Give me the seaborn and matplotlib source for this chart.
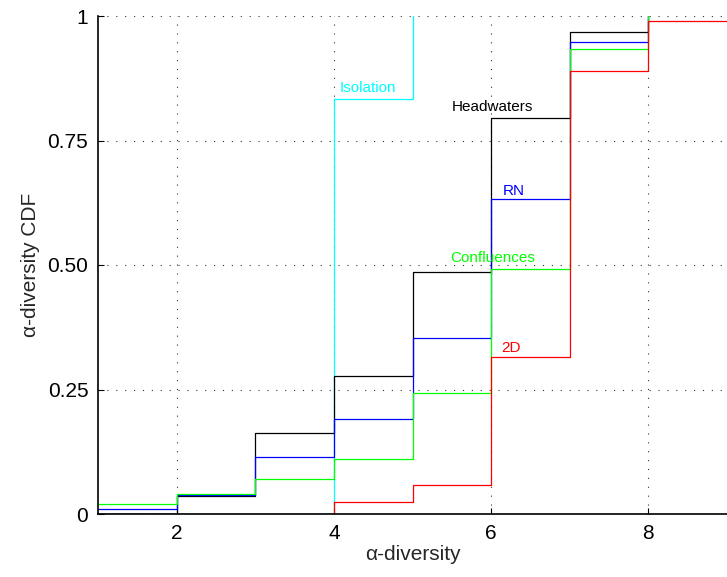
import numpy as np
import pandas as pd
import matplotlib
matplotlib.use("Agg")
import matplotlib.pyplot as plt
import seaborn as sns

# Step CDFs of alpha-diversity for each network configuration (value held from x until next x)
x_levels = [1, 2, 3, 4, 5, 6, 7, 8, 9]
headwaters = [0.0, 0.0355, 0.163, 0.277, 0.485, 0.796, 0.968, 1.0]
rn = [0.0107, 0.0375, 0.114, 0.190, 0.353, 0.632, 0.948, 1.0]
confluences = [0.0201, 0.040, 0.070, 0.110, 0.242, 0.491, 0.933, 1.0]
two_d = [0.0, 0.0, 0.0, 0.0235, 0.058, 0.316, 0.890, 0.990, 0.990]
isolation = [0.0, 0.0, 0.0, 0.834, 1.0]

series_names = ["Isolation", "Headwaters", "RN", "Confluences", "2D"]
series_values = [isolation, headwaters, rn, confluences, two_d]
series_colors = ["#00ffff", "#000000", "#0000ff", "#00ff00", "#ff0000"]

x_ticks = [2, 4, 6, 8]
y_ticks = [0, 0.25, 0.5, 0.75, 1]
y_tick_labels = ["0", "0.25", "0.50", "0.75", "1"]

# Curve labels: (text, x, y, horizontal alignment)
label_specs = [
    ("Isolation", 4.07, 0.855, "left"),
    ("Headwaters", 6.02, 0.818, "center"),
    ("RN", 6.15, 0.648, "left"),
    ("Confluences", 6.02, 0.514, "center"),
    ("2D", 6.13, 0.333, "left"),
]

frames = []
for name, vals in zip(series_names, series_values):
    frames.append(pd.DataFrame({"x": x_levels[:len(vals)], "cdf": vals, "series": name}))
df = pd.concat(frames, ignore_index=True)

sns.set_style("white")
plt.rcParams["font.family"] = ["Liberation Sans", "DejaVu Sans"]

fig = plt.figure(figsize=(7.27, 5.77), dpi=100)
ax = fig.add_axes([98 / 727, 1 - 514 / 577, 629 / 727, 498 / 577])

for name in series_names:
    sub = df[df["series"] == name]
    color = series_colors[series_names.index(name)]
    sns.lineplot(data=sub, x="x", y="cdf", ax=ax, color=color, lw=0.9,
                 drawstyle="steps-post", estimator=None, sort=False,
                 legend=False, zorder=3)

for text, tx, ty, ha in label_specs:
    color = series_colors[series_names.index(text)]
    ax.text(tx, ty, text, color=color, fontsize=11, ha=ha, va="center")

ax.set_xlim(1, 9)
ax.set_ylim(0, 1)
ax.set_xticks(x_ticks)
ax.set_xticklabels([str(v) for v in x_ticks])
ax.set_yticks(y_ticks)
ax.set_yticklabels(y_tick_labels)
ax.grid(True, linestyle=(0, (1, 7)), color="#333333", lw=0.8)
ax.tick_params(axis="both", direction="in", length=4, width=0.8,
               labelsize=15, colors="black", pad=7)
ax.tick_params(axis="both", left=True, bottom=True)

for side in ["top", "right"]:
    ax.spines[side].set_visible(False)
for side in ["left", "bottom"]:
    ax.spines[side].set_color("black")
    ax.spines[side].set_linewidth(1.2)
    ax.spines[side].set_zorder(5)

ax.set_xlabel("α-diversity", fontsize=15, labelpad=2)
ax.set_ylabel("α-diversity CDF", fontsize=15, labelpad=5)

fig.savefig("out.png", dpi=100)
